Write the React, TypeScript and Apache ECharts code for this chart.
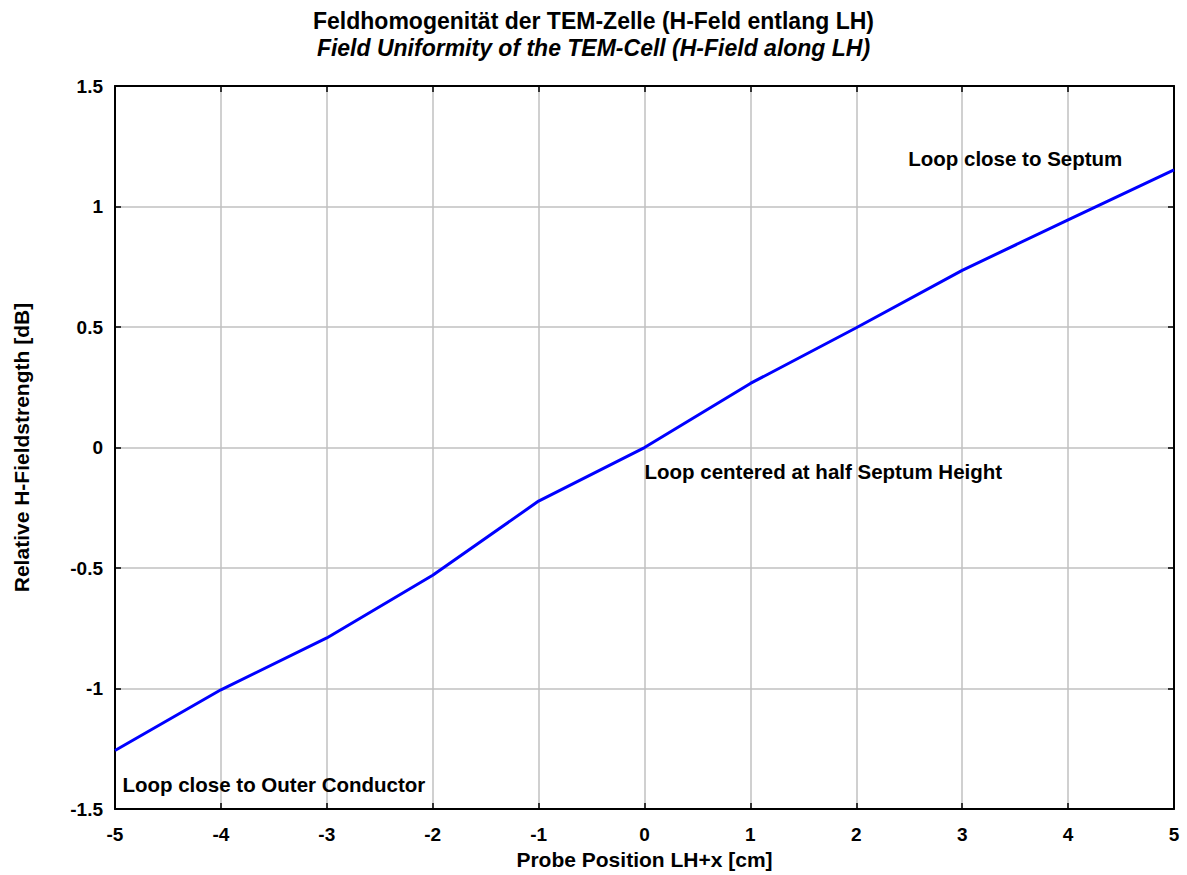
import React, { useEffect, useRef } from "react";
import * as echarts from "echarts";

const positions = [-5, -4, -3, -2, -1, 0, 1, 2, 3, 4, 5];
const fieldValues = [-1.257, -1.005, -0.79, -0.53, -0.222, 0.0, 0.266, 0.497, 0.735, 0.945, 1.152];
const annotations = [
  { text: "Loop close to Septum", x: 2.49, y: 1.2 },
  { text: "Loop centered at half Septum Height", x: 0.0, y: -0.1 },
  { text: "Loop close to Outer Conductor", x: -4.93, y: -1.4 },
];
const titleMain = "Feldhomogenität der TEM-Zelle (H-Feld entlang LH)";
const titleSub = "Field Uniformity of the TEM-Cell (H-Field along LH)";
const xName = "Probe Position LH+x [cm]";
const yName = "Relative H-Fieldstrength [dB]";

const FONT = "'Liberation Sans', Arial, sans-serif";

export default function App() {
  const ref = useRef<HTMLDivElement>(null);
  useEffect(() => {
    if (!ref.current) return;
    const chart = echarts.init(ref.current, undefined, { renderer: "svg" });
    const axisLabel = { color: "#000", fontFamily: FONT, fontWeight: "bold" as const, fontSize: 19 };
    const axisLine = { show: true, onZero: false, lineStyle: { color: "#000", width: 2 } };
    const splitLine = { show: true, lineStyle: { color: "#c0c0c0", width: 1.5 } };
    const tick = { show: true, inside: true, length: 6, lineStyle: { color: "#000", width: 1.5 } };
    const nameStyle = { fontFamily: FONT, fontWeight: "bold" as const, fontSize: 21, color: "#000" };
    chart.setOption({
      animation: false,
      backgroundColor: "#fff",
      title: [
        {
          text: titleMain,
          left: "center",
          top: 4,
          textStyle: { fontFamily: FONT, fontWeight: "bold", fontSize: 23, color: "#000" },
        },
        {
          text: titleSub,
          left: "center",
          top: 31,
          textStyle: { fontFamily: FONT, fontWeight: "bold", fontStyle: "italic", fontSize: 23, color: "#000" },
        },
      ],
      grid: { left: 115, right: 13, top: 86, bottom: 64, containLabel: false },
      xAxis: [
        {
          type: "value",
          min: -5,
          max: 5,
          interval: 1,
          name: xName,
          nameLocation: "middle",
          nameGap: 39,
          nameTextStyle: nameStyle,
          axisLine,
          axisTick: tick,
          splitLine,
          axisLabel: { ...axisLabel, margin: 16 },
        },
        {
          type: "value",
          position: "top",
          min: -5,
          max: 5,
          interval: 1,
          axisLine,
          axisTick: tick,
          splitLine: { show: false },
          axisLabel: { show: false },
        },
      ],
      yAxis: [
        {
          type: "value",
          min: -1.5,
          max: 1.5,
          interval: 0.5,
          name: yName,
          nameLocation: "middle",
          nameGap: 83,
          nameTextStyle: nameStyle,
          axisLine,
          axisTick: tick,
          splitLine,
          axisLabel: { ...axisLabel, margin: 12 },
        },
        {
          type: "value",
          position: "right",
          min: -1.5,
          max: 1.5,
          interval: 0.5,
          axisLine,
          axisTick: tick,
          splitLine: { show: false },
          axisLabel: { show: false },
        },
      ],
      series: [
        {
          type: "line",
          data: positions.map((x, i) => [x, fieldValues[i]]),
          symbol: "none",
          lineStyle: { color: "#0000ff", width: 3 },
          z: 3,
        },
        {
          type: "scatter",
          symbolSize: 0,
          itemStyle: { opacity: 1 },
          data: annotations.map((a) => ({ value: [a.x, a.y], name: a.text })),
          label: {
            show: true,
            position: "right",
            distance: 0,
            formatter: (p: any) => p.name,
            color: "#000",
            opacity: 1,
            fontFamily: FONT,
            fontWeight: "bold",
            fontSize: 20.5,
          },
          z: 4,
        },
      ],
    });
    return () => chart.dispose();
  }, []);
  return <div ref={ref} style={{ width: 1187, height: 875, position: "absolute", left: 0, top: 0 }} />;
}
